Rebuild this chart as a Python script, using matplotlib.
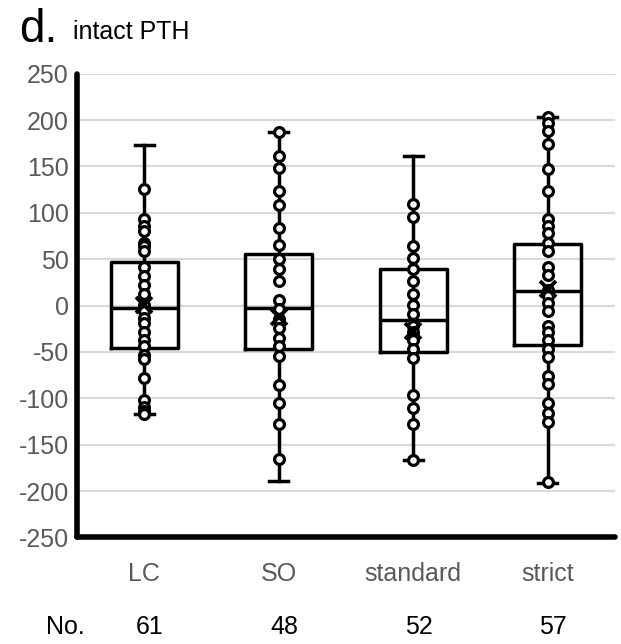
import matplotlib.pyplot as plt
import matplotlib.transforms as mtransforms

plt.rcParams['font.family'] = ['Liberation Sans', 'DejaVu Sans']
plt.rcParams['axes.unicode_minus'] = False

# Data
groups = ['LC', 'SO', 'standard', 'strict']
counts = [61, 48, 52, 57]
q1 = [-46, -47, -50, -42]
medians = [-2.5, -2.5, -16, 16]
q3 = [47, 56, 39, 66]
whisk_lo = [-117, -189, -166, -191]
whisk_hi = [173, 187, 161, 203]
means = [1, -12, -27, 18]

points = [
    [126, 93, 86, 80, 68, 64, 59, 42, 32, 22, 12, 1, -6, -13, -19, -28, -37,
     -44, -53, -58, -78, -102, -109, -114, -117],
    [187, 161, 148, 124, 108, 84, 65, 50, 39, 27, 6, -4, -15, -24, -35, -44,
     -54, -86, -105, -128, -165],
    [109, 96, 64, 51, 39, 27, 12, 1, -9, -22, -28, -37, -47, -56, -96, -110,
     -128, -166],
    [203, 197, 188, 174, 147, 124, 93, 86, 78, 68, 59, 42, 33, 17, 10, 3, -6,
     -22, -29, -37, -47, -55, -76, -85, -105, -116, -126, -190],
]

fig = plt.figure(figsize=(6.21, 6.44), dpi=100)
ax = fig.add_axes([0.124, 0.1654, 0.866, 0.7202])

stats = []
for i, g in enumerate(groups):
    stats.append(dict(label=g, med=medians[i], q1=q1[i], q3=q3[i],
                      whislo=whisk_lo[i], whishi=whisk_hi[i], mean=means[i],
                      fliers=[]))

positions = list(range(len(groups)))
bp = ax.bxp(stats, positions=positions, widths=0.5, showmeans=True,
            showfliers=False, zorder=3,
            boxprops=dict(color='black', linewidth=2.5),
            medianprops=dict(color='black', linewidth=2.5),
            whiskerprops=dict(color='black', linewidth=2.5),
            capprops=dict(color='black', linewidth=2.5),
            capwidths=0.14,
            meanprops=dict(marker='x', markeredgecolor='black',
                           markersize=11, markeredgewidth=2.8))
# mean crosses sit on top of the data points
for m in bp['means']:
    m.set_zorder(5)

for i, vals in enumerate(points):
    ax.scatter([positions[i]] * len(vals), vals, s=50, facecolors='white',
               edgecolors='black', linewidths=2.3, zorder=4)

ax.set_xlim(-0.5, 3.5)
ax.set_ylim(-250, 250)
ax.set_yticks(range(-250, 251, 50))
ax.grid(axis='y', color='#d9d9d9', linewidth=1.5, zorder=0)
ax.set_axisbelow(True)

for s in ['top', 'right']:
    ax.spines[s].set_visible(False)
for s in ['left', 'bottom']:
    ax.spines[s].set_linewidth(4)
    ax.spines[s].set_color('black')
    ax.spines[s].set_capstyle('round')

ax.tick_params(axis='both', length=0, labelsize=18, labelcolor='#595959')
ax.tick_params(axis='x', pad=18)
ax.tick_params(axis='y', pad=6)
ax.set_xticks(positions)
ax.set_xticklabels(groups)

trans = mtransforms.blended_transform_factory(ax.transData, fig.transFigure)
for i, n in enumerate(counts):
    ax.text(positions[i] + 0.04, 0.015, str(n), transform=trans, ha='center',
            va='baseline', fontsize=18, color='black')
fig.text(0.105, 0.015, 'No.', ha='center', va='baseline', fontsize=18,
         color='black')

fig.text(0.03, 0.935, 'd.', fontsize=33, color='black', va='baseline')
fig.text(0.117, 0.94, 'intact PTH', fontsize=18, color='black', va='baseline')

fig.savefig('out.png', dpi=100)
